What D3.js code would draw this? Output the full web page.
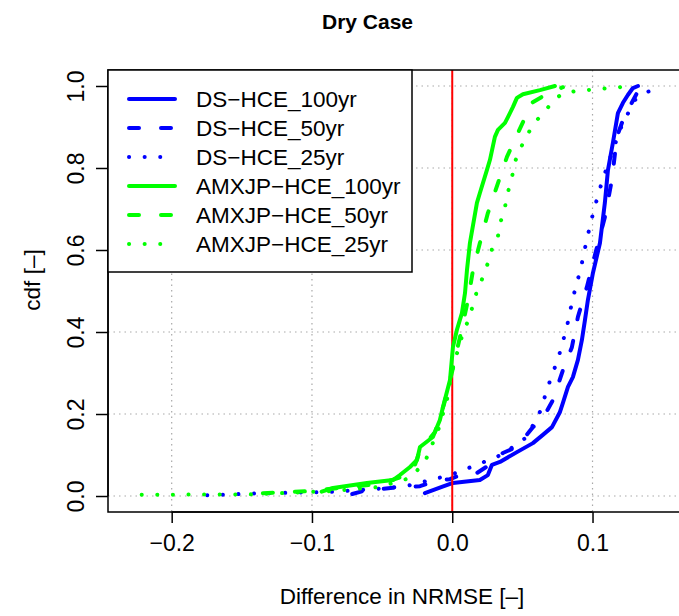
<!DOCTYPE html>
<html><head><meta charset="utf-8">
<script src="https://cdn.jsdelivr.net/npm/d3@7"></script>
<style>body{margin:0;background:#fff}svg{display:block;font-family:"Liberation Sans",Arial,sans-serif}</style>
</head><body>
<script>
const title = "Dry Case";
const xLabel = "Difference in NRMSE [\u2013]";
const yLabel = "cdf [\u2013]";
const xTicks = [-0.2, -0.1, 0.0, 0.1];
const yTicks = [0.0, 0.2, 0.4, 0.6, 0.8, 1.0];
const seriesNames = ["DS\u2212HCE_100yr","DS\u2212HCE_50yr","DS\u2212HCE_25yr","AMXJP\u2212HCE_100yr","AMXJP\u2212HCE_50yr","AMXJP\u2212HCE_25yr"];

const ds100X = [-0.0195,-0.0074,0.0005,0.0197,0.0254,0.0283,0.034,0.0461,0.0575,0.0646,0.0711,0.0768,0.0789,0.0825,0.086,0.0896,0.0924,0.0946,0.0967,0.1003,0.1053,0.1088,0.111,0.1145,0.1181,0.1217,0.1252,0.1288,0.1324];
const ds100Y = [0.007,0.022,0.032,0.039,0.051,0.076,0.083,0.107,0.129,0.149,0.168,0.205,0.227,0.266,0.29,0.332,0.38,0.429,0.478,0.544,0.617,0.715,0.795,0.861,0.934,0.959,0.978,0.995,1.0];

const ds50X = [-0.0713,-0.0637,-0.0423,-0.023,-0.011,-0.0016,0.0091,0.0176,0.0283,0.0361,0.0461,0.0575,0.0639,0.0718,0.0789,0.0853,0.0896,0.096,0.1039,0.1088,0.1138,0.1174,0.1217,0.1252,0.1317,0.1388];
const ds50Y = [0.005,0.012,0.02,0.024,0.037,0.041,0.056,0.056,0.08,0.105,0.12,0.168,0.185,0.234,0.307,0.363,0.437,0.51,0.617,0.68,0.771,0.876,0.917,0.941,0.983,0.998];

const ds25X = [-0.1747,-0.142,-0.0872,-0.0551,-0.033,-0.0016,0.0176,0.0361,0.0532,0.0625,0.0689,0.076,0.0817,0.086,0.0917,0.096,0.101,0.1067,0.1138,0.121,0.1303,0.1388,0.1481];
const ds25Y = [0.002,0.006,0.01,0.017,0.024,0.051,0.076,0.102,0.144,0.205,0.273,0.341,0.412,0.483,0.556,0.627,0.698,0.766,0.837,0.905,0.966,0.985,0.998];

const am100X = [-0.0931,-0.085,-0.0608,-0.0423,-0.0373,-0.0301,-0.0251,-0.023,-0.0138,-0.0088,-0.0066,-0.0016,0.0005,0.0033,0.0069,0.0091,0.0105,0.0126,0.0176,0.0197,0.0247,0.0269,0.0304,0.0326,0.0376,0.0397,0.0433,0.0461,0.0504,0.0625,0.0732];
const am100Y = [0.0105,0.0195,0.0317,0.039,0.0512,0.0707,0.0878,0.1195,0.1439,0.1854,0.217,0.283,0.363,0.405,0.446,0.495,0.551,0.617,0.715,0.739,0.795,0.82,0.876,0.893,0.91,0.924,0.949,0.971,0.98,0.99,1.0];

const am50X = [-0.135,-0.101,-0.08,-0.052,-0.034,-0.028,-0.023,-0.0123,-0.006,-0.0002,0.0026,0.0062,0.0112,0.0148,0.0197,0.0254,0.0326,0.039,0.0468,0.0568,0.0696,0.0789];
const am50Y = [0.007,0.012,0.02,0.029,0.049,0.061,0.112,0.156,0.222,0.302,0.344,0.398,0.478,0.551,0.617,0.69,0.763,0.827,0.885,0.959,0.985,0.997];

const am25X = [-0.2214,-0.144,-0.087,-0.052,-0.03,-0.0195,-0.01,-0.0038,-0.0002,0.0019,0.0048,0.0076,0.0119,0.0148,0.0176,0.0219,0.0254,0.0283,0.0326,0.0347,0.0376,0.0397,0.0426,0.0447,0.0483,0.0532,0.0582,0.0654,0.0711,0.0789,0.0896,0.1224];
const am25Y = [0.003,0.004,0.012,0.022,0.044,0.083,0.161,0.234,0.302,0.332,0.363,0.398,0.432,0.466,0.5,0.534,0.568,0.602,0.634,0.671,0.705,0.741,0.778,0.815,0.846,0.878,0.91,0.934,0.961,0.983,0.988,0.998];

const W = 679, H = 616;
const svg = d3.select("body").append("svg").attr("width", W).attr("height", H);
const x = d3.scaleLinear().domain([-0.2454, 0.1645]).range([108, 683]);
const y = d3.scaleLinear().domain([-0.039, 1.039]).range([512, 70]);

svg.append("defs").append("clipPath").attr("id","clip").append("rect")
  .attr("x",108).attr("y",70).attr("width",575).attr("height",442);

// grid
const grid = svg.append("g").attr("stroke","#a9a9a9").attr("stroke-width",1.2).attr("stroke-dasharray","1.5,4");
grid.selectAll(".gx").data(xTicks).join("line").attr("x1",d=>x(d)).attr("x2",d=>x(d)).attr("y1",70).attr("y2",512);
grid.selectAll(".gy").data(yTicks).join("line").attr("y1",d=>y(d)).attr("y2",d=>y(d)).attr("x1",108).attr("x2",683);

const series = [
  {xs: ds100X, ys: ds100Y, color:"#0000ff", dash:null},
  {xs: ds50X, ys: ds50Y, color:"#0000ff", dash:"10,22"},
  {xs: ds25X, ys: ds25Y, color:"#0000ff", dash:"0.1,15.5"},
  {xs: am100X, ys: am100Y, color:"#00ff00", dash:null},
  {xs: am50X, ys: am50Y, color:"#00ff00", dash:"10,22"},
  {xs: am25X, ys: am25Y, color:"#00ff00", dash:"0.1,15.5"}
];
const line = d3.line().x(d=>x(d[0])).y(d=>y(d[1]));
const plotG = svg.append("g").attr("clip-path","url(#clip)");
function drawSeries(s){
  plotG.append("path").datum(d3.zip(s.xs, s.ys)).attr("d", line)
    .attr("fill","none").attr("stroke", s.color).attr("stroke-width",4)
    .attr("stroke-linecap","round").attr("stroke-linejoin","round")
    .attr("stroke-dasharray", s.dash);
}
series.slice(0,3).forEach(drawSeries);
plotG.append("line").attr("x1",x(0)).attr("x2",x(0)).attr("y1",70).attr("y2",512)
  .attr("stroke","#ff0000").attr("stroke-width",2);
series.slice(3).forEach(drawSeries);

// box
svg.append("path").attr("d","M683,70 H108 V512 H683").attr("fill","none").attr("stroke","#000").attr("stroke-width",1.5);

// axes
const xAxis = d3.axisBottom(x).tickValues(xTicks).tickSize(11).tickFormat(d3.format(".1f"));
const gx = svg.append("g").attr("transform","translate(0,512)").call(xAxis);
gx.select(".domain").attr("d", `M${x(xTicks[0])},0H${x(xTicks[xTicks.length-1])}`).attr("stroke-width",1.5);
gx.selectAll(".tick line").attr("stroke-width",1.5);
gx.selectAll("text").attr("font-size",23).attr("font-family","Liberation Sans, Arial, sans-serif").attr("fill","#000").attr("y",23)
  .text(d => d3.format(".1f")(d).replace("-", "\u2212"));

const yAxis = d3.axisLeft(y).tickValues(yTicks).tickSize(12).tickFormat(d3.format(".1f"));
const gy = svg.append("g").attr("transform","translate(108,0)").call(yAxis);
gy.select(".domain").attr("d", `M0,${y(0)}V${y(1)}`).attr("stroke-width",1.5);
gy.selectAll(".tick line").attr("stroke-width",1.5);
gy.selectAll(".tick text").attr("font-size",23).attr("font-family","Liberation Sans, Arial, sans-serif").attr("fill","#000")
  .attr("x",0).attr("y",0).attr("dy",0).attr("text-anchor","middle")
  .attr("transform","translate(-24,0) rotate(-90)");

// titles
svg.append("text").attr("x",367.5).attr("y",29).attr("text-anchor","middle").attr("font-weight","bold").attr("font-size",21).text(title);
svg.append("text").attr("x",402).attr("y",604).attr("text-anchor","middle").attr("font-size",22.5).text(xLabel);
svg.append("text").attr("transform","translate(40,280) rotate(-90)").attr("text-anchor","middle").attr("font-size",22.5).text(yLabel);

// legend
const lg = svg.append("g");
lg.append("rect").attr("x",108).attr("y",70).attr("width",304).attr("height",202).attr("fill","#fff").attr("stroke","#000").attr("stroke-width",1.5);
const rowY = d3.scaleLinear().domain([0,5]).range([99,244]);
seriesNames.forEach((name,i)=>{
  const s = series[i];
  lg.append("line").attr("x1",129).attr("x2",175).attr("y1",rowY(i)).attr("y2",rowY(i))
    .attr("stroke",s.color).attr("stroke-width",4).attr("stroke-linecap","round").attr("stroke-dasharray", s.dash ? (s.dash.startsWith("0.1") ? "0.1,15.5" : "10,22") : null);
  lg.append("text").attr("x",196).attr("y",rowY(i)+8).attr("font-size",22.5).text(name);
});
</script>
</body></html>
